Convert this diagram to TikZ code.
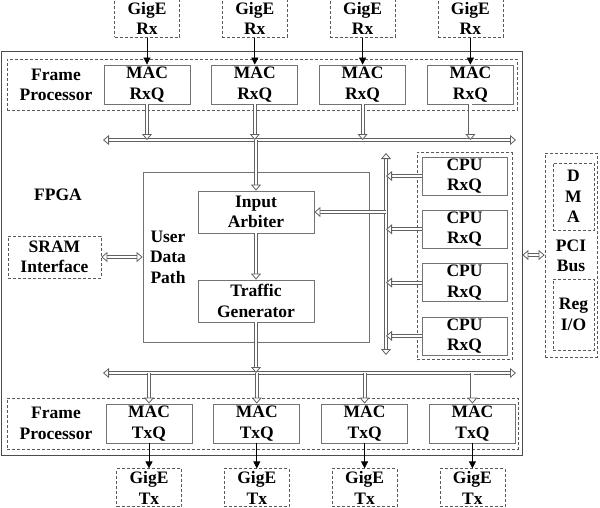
\documentclass[tikz,border=0pt]{standalone}
\usepackage{fontspec}
\setmainfont{Liberation Serif}
\usetikzlibrary{arrows.meta, positioning, fit, decorations.markings}

\begin{document}
\begin{tikzpicture}[
  x=1pt, y=-1pt,
  font=\bfseries\fontsize{17.5}{20.5}\selectfont,
  blk/.style={draw=black!55, line width=0.8pt, align=center, inner sep=0pt,
    minimum width=86pt, minimum height=39pt},
  dbox/.style={draw=black!65, dash pattern=on 3pt off 2pt, line width=0.7pt,
    align=center, inner sep=0pt},
  gig/.style={dbox, minimum width=65pt, minimum height=38pt},
  txt/.style={align=center, inner sep=0pt},
  hollow/.tip={Triangle[length=6pt, width=10pt, fill=white, line width=0.8pt]},
  pipe/.style={draw=black!62, double=white, double distance=2.2pt, line width=0.85pt},
  bus/.style={pipe, shorten >=5pt, postaction=decorate,
    decoration={markings, mark=at position 1 with {\pgfsetinnerlinewidth{0pt}\arrow{hollow}}}},
  bibus/.style={pipe, shorten >=5pt, shorten <=5pt, postaction=decorate,
    decoration={markings,
      mark=at position 0 with {\pgfsetinnerlinewidth{0pt}\arrowreversed{hollow}},
      mark=at position 1 with {\pgfsetinnerlinewidth{0pt}\arrow{hollow}}}},
  wire/.style={draw=black, line width=0.7pt, -{Triangle[length=7pt, width=7pt]}}
]
  \useasboundingbox (0,0) rectangle (600,507);

  % FPGA and the two frame processors
  \node[draw=black!70, line width=0.8pt, minimum width=521pt, minimum height=404pt] (fpga) at (261.5,253) {};
  \node[txt] (fpgal) at (58,195) {FPGA};
  \node[dbox, minimum width=510pt, minimum height=51pt] (fprx) at (262,84.5) {};
  \node[dbox, minimum width=511pt, minimum height=51pt] (fptx) at (262.5,423.5) {};
  \node[txt] (fprxl) at (56,85) {Frame\\Processor};
  \node[txt] (fptxl) at (56,423.5) {Frame\\Processor};

  % receive side
  \node[blk] (mrx1) at (147,84.5) {MAC\\RxQ};
  \node[blk, right=21pt of mrx1] (mrx2) {MAC\\RxQ};
  \node[blk, right=21pt of mrx2] (mrx3) {MAC\\RxQ};
  \node[blk, right=21pt of mrx3] (mrx4) {MAC\\RxQ};
  \node[gig, above=27pt of mrx1] (rx1) {GigE\\Rx};
  \node[gig, above=27pt of mrx2] (rx2) {GigE\\Rx};
  \node[gig, above=27pt of mrx3] (rx3) {GigE\\Rx};
  \node[gig, above=27pt of mrx4] (rx4) {GigE\\Rx};

  % transmit side
  \node[blk] (mtx1) at (149,423.5) {MAC\\TxQ};
  \node[blk, right=21pt of mtx1] (mtx2) {MAC\\TxQ};
  \node[blk, right=21pt of mtx2] (mtx3) {MAC\\TxQ};
  \node[blk, right=21pt of mtx3] (mtx4) {MAC\\TxQ};
  \node[gig, below=25pt of mtx1] (tx1) {GigE\\Tx};
  \node[gig, below=25pt of mtx2] (tx2) {GigE\\Tx};
  \node[gig, below=25pt of mtx3] (tx3) {GigE\\Tx};
  \node[gig, below=25pt of mtx4] (tx4) {GigE\\Tx};

  % user data path
  \node[blk, minimum width=226pt, minimum height=170pt] (udp) at (256,257) {};
  \node[txt] (udpl) at (168,257) {User\\Data\\Path};
  \node[blk, minimum width=116pt, minimum height=42pt] (arb) at (256,212) {Input\\Arbiter};
  \node[blk, minimum width=116pt, minimum height=42pt] (tgen) at (256,301) {Traffic\\Generator};
  \node[dbox, minimum width=93pt, minimum height=42pt] (sram) at (54.5,257) {SRAM\\Interface};

  % cpu queues
  \node[blk, minimum width=85pt, minimum height=38pt] (cpu1) at (464.5,176) {CPU\\RxQ};
  \node[blk, minimum width=85pt, minimum height=38pt, below=14.5pt of cpu1] (cpu2) {CPU\\RxQ};
  \node[blk, minimum width=85pt, minimum height=38pt, below=14.5pt of cpu2] (cpu3) {CPU\\RxQ};
  \node[blk, minimum width=85pt, minimum height=38pt, below=14.5pt of cpu3] (cpu4) {CPU\\RxQ};
  \node[dbox, fit=(cpu1)(cpu4), inner sep=4.5pt] (cpug) {};

  % pci bus
  \node[dbox, minimum width=52pt, minimum height=204pt] (pci) at (571,255) {};
  \node[dbox, minimum width=41pt, minimum height=67pt] (dma) at (573.5,196.5) {D\\M\\A};
  \node[dbox, minimum width=41pt, minimum height=71pt] (regio) at (573.5,314.5) {Reg\\I/O};
  \node[txt] (pcil) at (571,256) {PCI\\Bus};

  % buses
  \coordinate (rxl) at (103,140);
  \coordinate (rxr) at (516,140);
  \coordinate (txl) at (103,373);
  \coordinate (txr) at (516,373);
  \coordinate (vbt) at (386,153);
  \coordinate (vbb) at (386,355);
  \draw[bibus] (rxl) -- (rxr);
  \draw[bibus] (txl) -- (txr);
  \draw[bibus] (vbt) -- (vbb);

  \draw[wire] (rx1) -- (mrx1);
  \draw[wire] (rx2) -- (mrx2);
  \draw[wire] (rx3) -- (mrx3);
  \draw[wire] (rx4) -- (mrx4);
  \draw[bus] (mrx1.south) -- (mrx1.south |- rxl);
  \draw[bus] (mrx2.south) -- (mrx2.south |- rxl);
  \draw[bus] (mrx3.south) -- (mrx3.south |- rxl);
  \draw[bus] (mrx4.south) -- (mrx4.south |- rxl);

  \draw[bus] (arb.north |- rxl) -- (arb.north);
  \draw[bus] (arb) -- (tgen);
  \draw[bus] (tgen.south) -- (tgen.south |- txl);
  \draw[bus] (arb.east -| vbt) -- (arb.east);
  \draw[bibus] (sram) -- (udp);

  \draw[bus] (cpu1.west) -- (cpu1.west -| vbt);
  \draw[bus] (cpu2.west) -- (cpu2.west -| vbt);
  \draw[bus] (cpu3.west) -- (cpu3.west -| vbt);
  \draw[bus] (cpu4.west) -- (cpu4.west -| vbt);

  \draw[bus] (mtx1.north |- txl) -- (mtx1.north);
  \draw[bus] (mtx2.north |- txl) -- (mtx2.north);
  \draw[bus] (mtx3.north |- txl) -- (mtx3.north);
  \draw[bus] (mtx4.north |- txl) -- (mtx4.north);
  \draw[wire] (mtx1) -- (tx1);
  \draw[wire] (mtx2) -- (tx2);
  \draw[wire] (mtx3) -- (tx3);
  \draw[wire] (mtx4) -- (tx4);

  \draw[bibus] (fpga.east |- pci.west) -- (pci.west);
\end{tikzpicture}
\end{document}
